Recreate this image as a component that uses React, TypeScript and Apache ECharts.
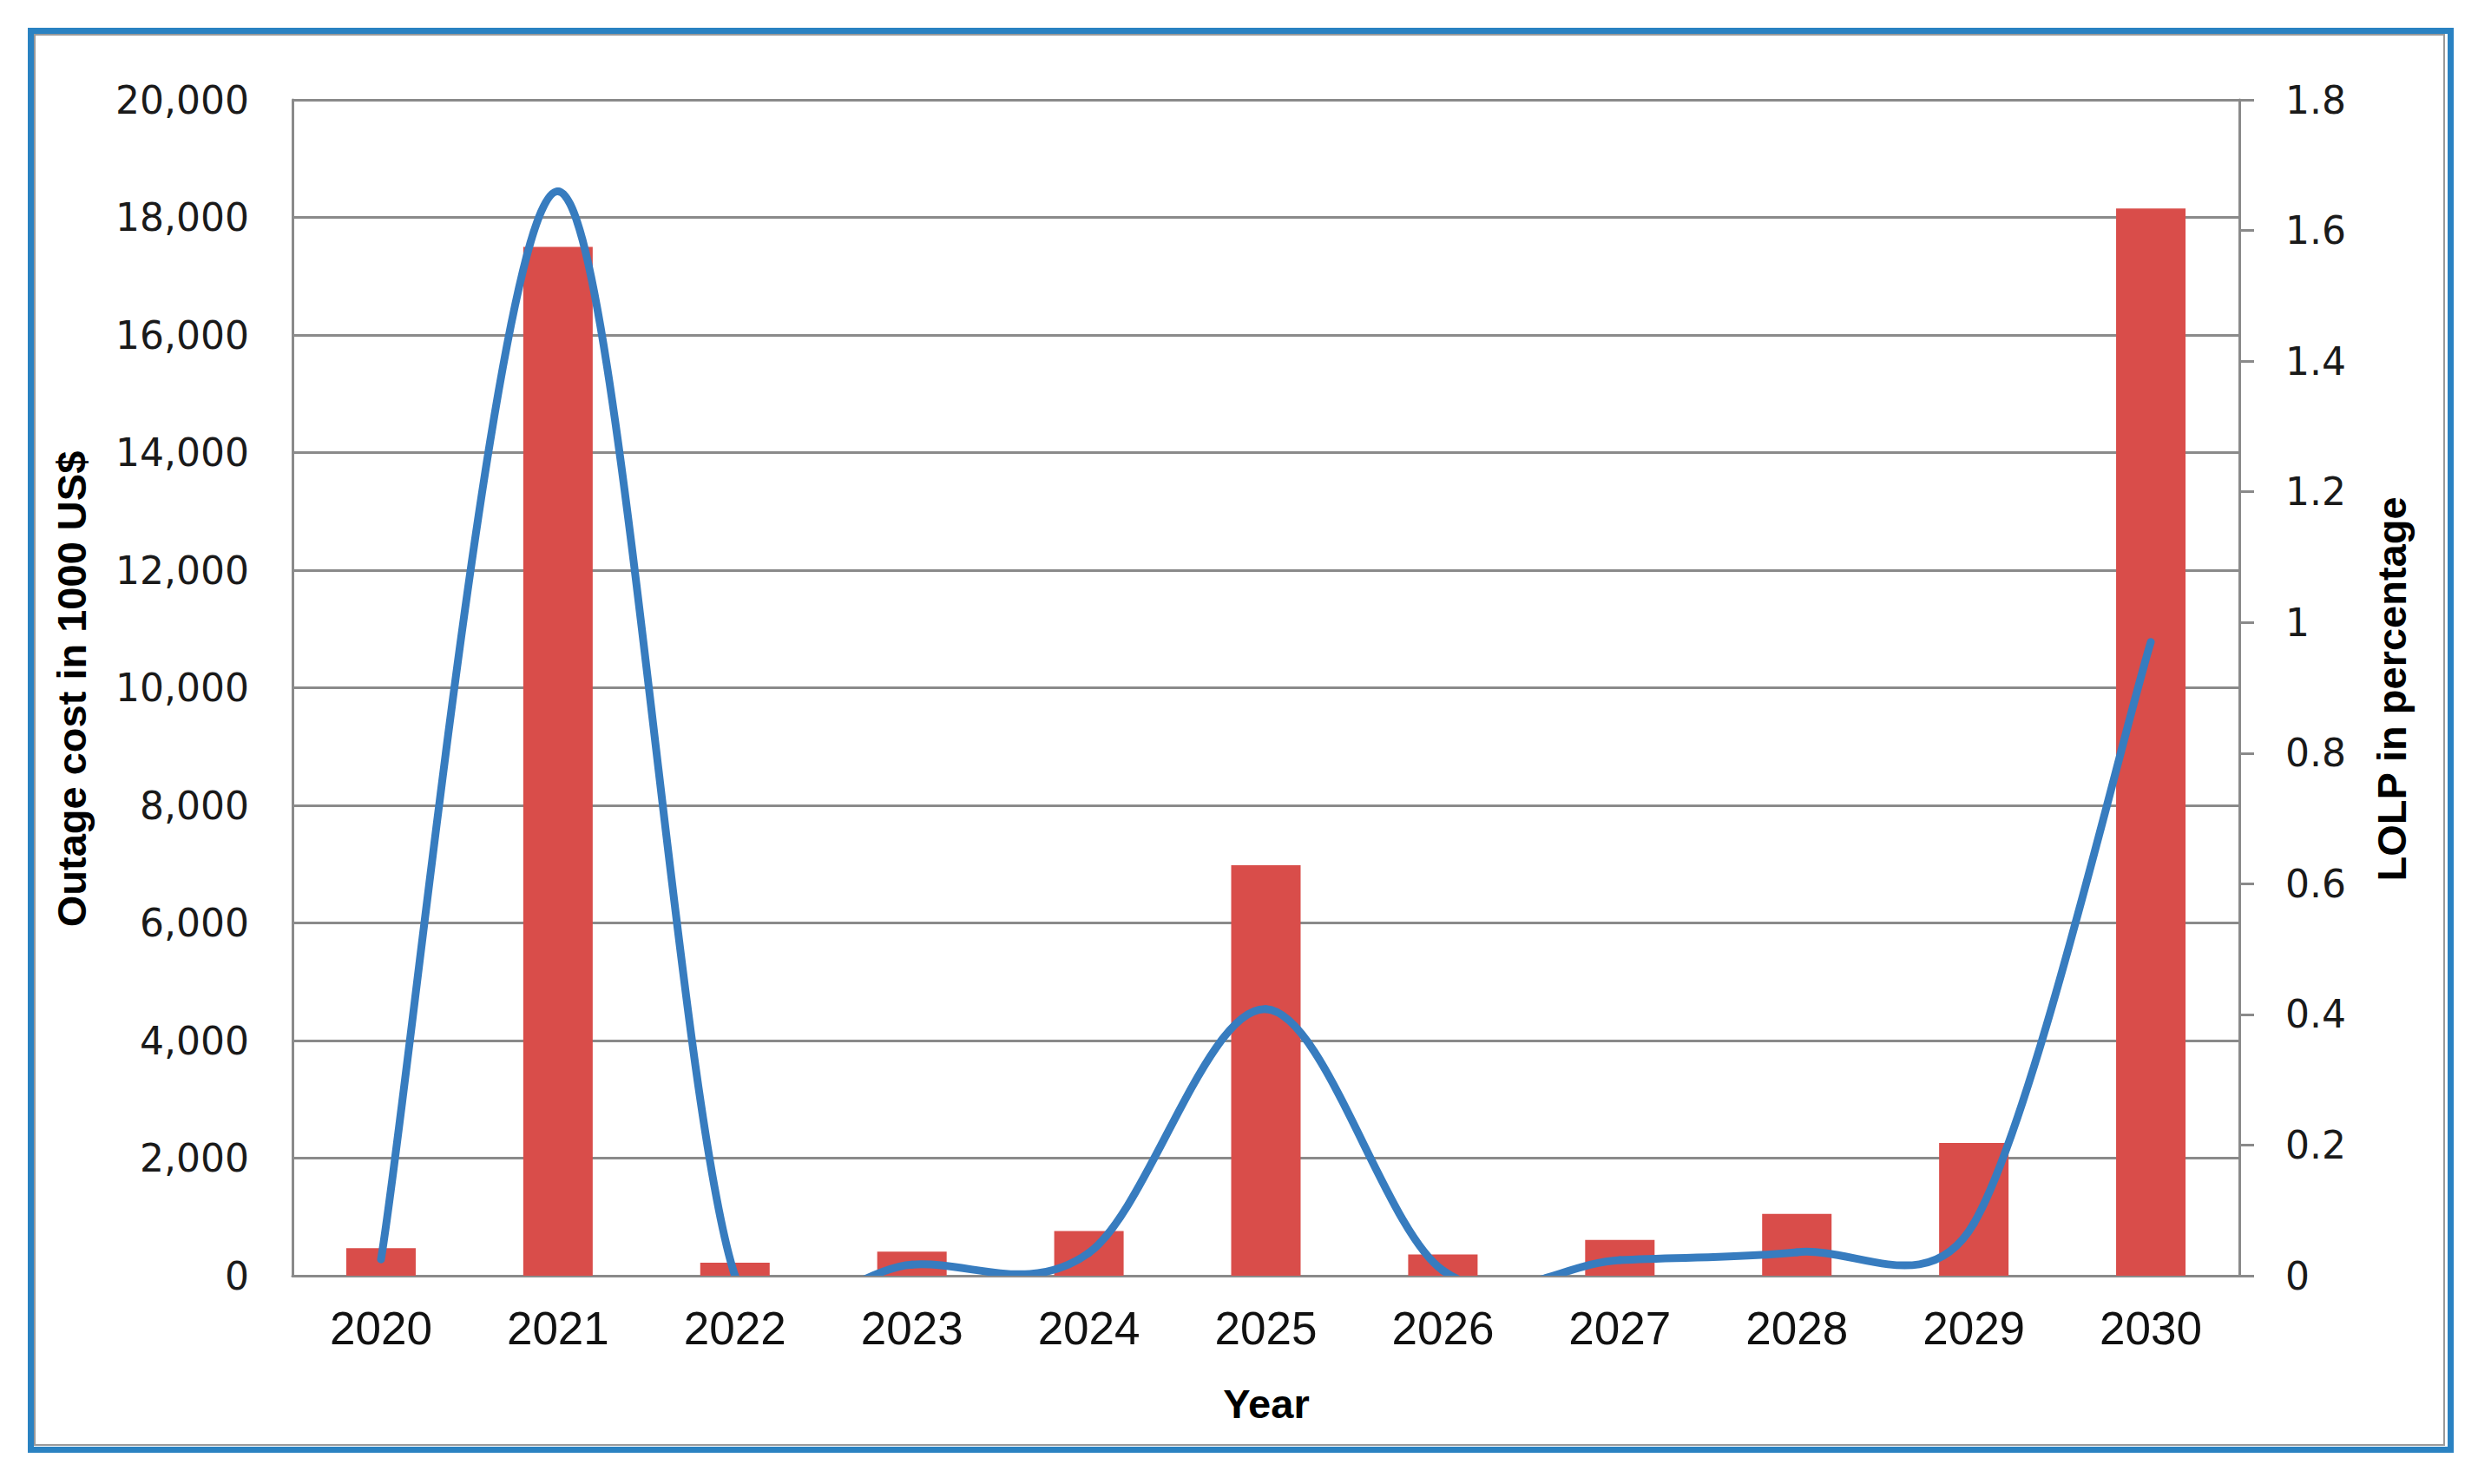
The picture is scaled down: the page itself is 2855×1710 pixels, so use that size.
import React, { useEffect, useRef } from 'react';
import * as echarts from 'echarts';

const years = ['2020', '2021', '2022', '2023', '2024', '2025', '2026', '2027', '2028', '2029', '2030'];
const outageCost = [470, 17500, 220, 410, 760, 6980, 360, 610, 1050, 2260, 18150];
const lolpPercent = [0.025, 1.66, 0.0, 0.017, 0.035, 0.408, 0.008, 0.024, 0.036, 0.08, 0.97];

const leftAxis = { min: 0, max: 20000, interval: 2000 };
const rightAxis = { min: 0, max: 1.8, interval: 0.2 };

const leftTitle = 'Outage cost in 1000 US$';
const rightTitle = 'LOLP in percentage';
const xTitle = 'Year';

const LINE_COLOR = '#377CBF';

// Excel-like smoothed line: each segment is a cubic Bezier whose control
// points come from the neighbouring data points (positions via api.coord).
function renderSmoothSegment(params: any, api: any) {
  const i = params.dataIndex;
  const n = lolpPercent.length;
  if (i >= n - 1) return { type: 'group', children: [] };
  const pt = (k: number) => {
    const kk = Math.max(0, Math.min(n - 1, k));
    return api.coord([kk, lolpPercent[kk]]) as number[];
  };
  const p0 = pt(i - 1);
  const p1 = pt(i);
  const p2 = pt(i + 1);
  const p3 = pt(i + 2);
  const dist = (a: number[], b: number[]) => Math.hypot(a[0] - b[0], a[1] - b[1]);
  const d02 = dist(p0, p2);
  const d12 = dist(p1, p2);
  const d13 = dist(p1, p3);
  let f1 = 1 / 6;
  let f2 = 1 / 6;
  if (d02 > 0 && d02 / 6 > d12 / 2) f1 = d12 / (2 * d02);
  if (d13 > 0 && d13 / 6 > d12 / 2) f2 = d12 / (2 * d13);
  const cs = params.coordSys;
  return {
    type: 'bezierCurve',
    shape: {
      x1: p1[0],
      y1: p1[1],
      x2: p2[0],
      y2: p2[1],
      cpx1: p1[0] + (p2[0] - p0[0]) * f1,
      cpy1: p1[1] + (p2[1] - p0[1]) * f1,
      cpx2: p2[0] - (p3[0] - p1[0]) * f2,
      cpy2: p2[1] - (p3[1] - p1[1]) * f2,
    },
    style: { stroke: LINE_COLOR, lineWidth: 9, fill: 'none', lineCap: 'round' },
    clipPath: {
      type: 'rect',
      shape: { x: cs.x, y: cs.y - 20, width: cs.width, height: cs.height + 20 },
    },
  };
}

export default function App() {
  const ref = useRef<HTMLDivElement>(null);

  useEffect(() => {
    if (!ref.current) return;
    const chart = echarts.init(ref.current, undefined, { renderer: 'svg' });
    const gray = '#8a8a8a';
    const titleFont = {
      fontFamily: 'Liberation Sans',
      fontWeight: 'bold' as const,
      fontSize: 47,
      fill: '#000',
    };
    chart.setOption({
      animation: false,
      backgroundColor: '#fff',
      grid: { left: 337, right: 275, top: 115, bottom: 240, containLabel: false },
      xAxis: {
        type: 'category',
        data: years,
        axisLine: { show: true, lineStyle: { color: gray, width: 3 } },
        axisTick: { show: false },
        axisLabel: {
          margin: 34,
          fontFamily: 'Liberation Sans',
          fontSize: 53,
          color: '#111',
        },
      },
      yAxis: [
        {
          type: 'value',
          min: leftAxis.min,
          max: leftAxis.max,
          interval: leftAxis.interval,
          position: 'left',
          axisLine: { show: true, lineStyle: { color: gray, width: 3 } },
          axisTick: { show: false },
          splitLine: { show: true, lineStyle: { color: gray, width: 3 } },
          axisLabel: {
            margin: 50,
            fontFamily: 'DejaVu Sans',
            fontSize: 44,
            color: '#1a1a1a',
            formatter: (v: number) => v.toLocaleString('en-US'),
          },
        },
        {
          type: 'value',
          min: rightAxis.min,
          max: rightAxis.max,
          interval: rightAxis.interval,
          position: 'right',
          axisLine: { show: true, lineStyle: { color: gray, width: 3 } },
          axisTick: { show: true, inside: false, length: 17, lineStyle: { color: gray, width: 3 } },
          splitLine: { show: false },
          axisLabel: {
            margin: 53,
            fontFamily: 'DejaVu Sans',
            fontSize: 44,
            color: '#1a1a1a',
            formatter: (v: number) => String(Math.round(v * 10) / 10),
          },
        },
      ],
      series: [
        {
          type: 'bar',
          data: outageCost,
          yAxisIndex: 0,
          barWidth: 80,
          itemStyle: { color: '#D94D4A' },
          z: 2,
        },
        {
          type: 'custom',
          name: 'LOLP',
          xAxisIndex: 0,
          yAxisIndex: 1,
          data: lolpPercent.map((v, i) => [i, v]),
          encode: { x: 0, y: 1 },
          renderItem: renderSmoothSegment,
          clip: true,
          z: 3,
        },
      ],
      graphic: [
        {
          type: 'rect',
          shape: { x: 35.5, y: 35.5, width: 2788, height: 1635 },
          style: { fill: 'none', stroke: '#2A82C2', lineWidth: 7 },
          silent: true,
        },
        {
          type: 'rect',
          shape: { x: 40, y: 40, width: 2776, height: 1625 },
          style: { fill: 'none', stroke: '#9a9a9a', lineWidth: 2 },
          silent: true,
        },
        {
          type: 'text',
          x: 82,
          y: 794,
          rotation: Math.PI / 2,
          style: { text: leftTitle, align: 'center', verticalAlign: 'middle', ...titleFont },
        },
        {
          type: 'text',
          x: 2755,
          y: 794,
          rotation: Math.PI / 2,
          style: { text: rightTitle, align: 'center', verticalAlign: 'middle', ...titleFont },
        },
        {
          type: 'text',
          x: 1459,
          y: 1617,
          style: { text: xTitle, align: 'center', verticalAlign: 'middle', ...titleFont },
        },
      ],
    });
    return () => chart.dispose();
  }, []);

  return (
    <div
      ref={ref}
      style={{ position: 'fixed', left: 0, top: 0, width: 2855, height: 1710, background: '#fff' }}
    />
  );
}
